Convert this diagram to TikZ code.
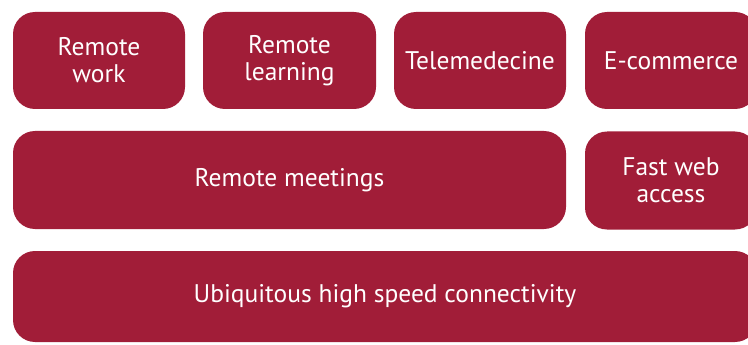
\documentclass[tikz,border=0pt]{standalone}
\usepackage{fontspec}
\setmainfont{PT Sans}
\definecolor{tileRed}{RGB}{161,29,56}
\begin{document}
\begin{tikzpicture}[x=1pt,y=1pt,yscale=-1,xscale=1,
	tile/.style={fill=tileRed,draw=none,rounded corners=22pt,text=white,align=center,font=\fontsize{25.5}{27}\selectfont,inner sep=0pt}]
		%set diagram size to 748 x 345
		\useasboundingbox (0,0) rectangle (748,345);
		\clip (0,0) rectangle (748,345);
		
		%Top row
		\node [tile,minimum width=172,minimum height=97] (work) at (99,60.5) {Remote\\work};
		\node [tile,minimum width=173,minimum height=97] (learning) at (289.5,60.5) {Remote\\learning};
		\node [tile,minimum width=172,minimum height=97] (tele) at (480,60.5) {Telemedecine};
		\node [tile,minimum width=172,minimum height=97] (ecommerce) at (671,60.5) {E-commerce};
		%Middle row
		\node [tile,minimum width=553,minimum height=98] (meetings) at (289.5,180) {Remote meetings};
		\node [tile,minimum width=172,minimum height=98] (web) at (671,180.5) {Fast web\\access};
		%Bottom row
		\node [tile,minimum width=744,minimum height=91] (connect) at (385,296.5) {Ubiquitous high speed connectivity};
		
\end{tikzpicture}
\end{document}
